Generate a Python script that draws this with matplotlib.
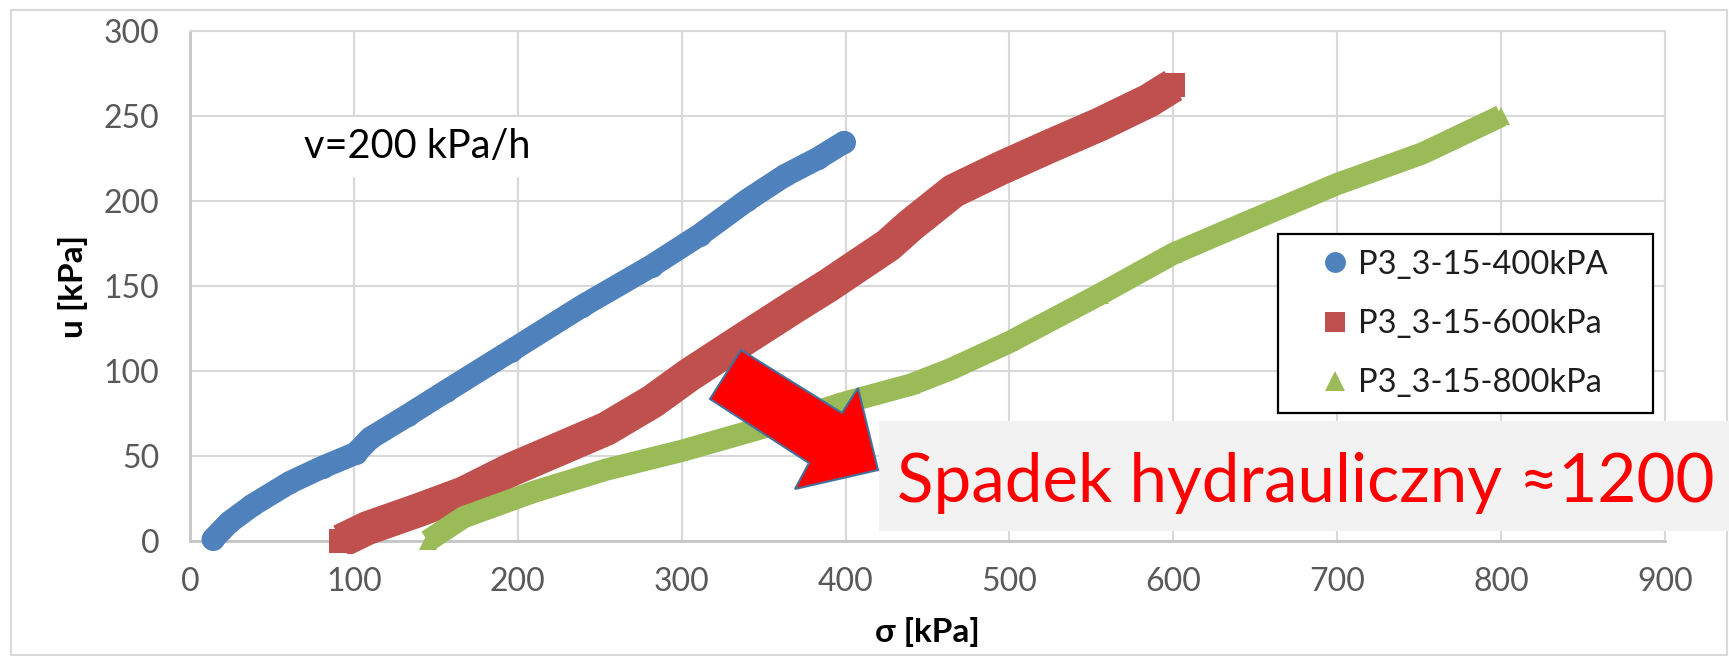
import matplotlib
matplotlib.use("Agg")
import matplotlib.pyplot as plt
from matplotlib.patches import Rectangle, Polygon
from matplotlib.lines import Line2D

# pore pressure u [kPa] against total stress sigma [kPa], three loading tests
sigma_400 = [14, 24, 38, 61, 81, 101, 110, 133, 156, 196, 239, 282, 311, 340, 363, 383, 399]
u_400 = [1, 11, 21, 34.5, 43.5, 51.5, 60.5, 74, 88, 112, 138, 162, 180, 200.5, 215, 225, 234.5]

sigma_600 = [92, 108, 139, 167, 196, 225, 254, 282, 305, 340, 369, 389, 426, 440,
             466, 494, 524, 555, 585, 600]
u_600 = [0, 7.5, 18, 28, 42, 54, 66, 82, 98, 120, 138, 150, 174, 186,
         206, 219, 232, 245, 259, 268]

sigma_800 = [145, 167, 210, 254, 300, 340, 369, 398, 440, 464, 500, 555, 600, 646, 700, 752, 800]
u_800 = [0, 14, 29, 42, 53, 64, 72, 81, 92, 101, 117, 145, 169, 188, 210, 228, 250]

labels = ["P3_3-15-400kPA", "P3_3-15-600kPa", "P3_3-15-800kPa"]
colors = ["#4f81bd", "#c0504d", "#9bbb59"]

W, H = 1729, 656
plt.rcParams["font.family"] = ["Lato", "DejaVu Sans"]


def fx(x):
    return x / W


def fy(y):
    return 1 - y / H


fig = plt.figure(figsize=(W / 100, H / 100), dpi=100)
fig.patch.set_facecolor("white")

# chart area border
fig.patches.append(Rectangle((fx(11), fy(655)), fx(1727) - fx(11), fy(10) - fy(655),
                             transform=fig.transFigure, fill=False,
                             edgecolor="#d9d9d9", linewidth=1.5, zorder=0))

ax = fig.add_axes([fx(190), fy(541), fx(1665) - fx(190), fy(31) - fy(541)])
ax.set_xlim(0, 900)
ax.set_ylim(0, 300)
ax.set_xticks(range(0, 901, 100))
ax.set_yticks(range(0, 301, 50))
ax.grid(True, color="#d9d9d9", linewidth=1.5)
ax.set_axisbelow(True)
ax.tick_params(length=0, labelsize=23, labelcolor="#595959")
ax.tick_params(axis="x", pad=19)
ax.tick_params(axis="y", pad=22)
for side in ["left", "bottom"]:
    ax.spines[side].set_color("#c6c6c6")
    ax.spines[side].set_linewidth(2)
for side in ["top", "right"]:
    ax.spines[side].set_color("#d9d9d9")
    ax.spines[side].set_linewidth(1.5)

# markers spill a little below the zero line
clip = Rectangle((0, -0.025), 1, 1.025, transform=ax.transAxes)

series = [
    (sigma_400, u_400, "o", 16.5, 16.5, "round"),
    (sigma_600, u_600, "s", 24.5, 17.5, "butt"),
    (sigma_800, u_800, "^", 16.0, 13.5, "butt"),
]
for (s, u, m, lw, ms, cap), c in zip(series, colors):
    band, = ax.plot(s, u, color=c, linewidth=lw, solid_capstyle=cap,
                    solid_joinstyle="round", zorder=3)
    pts, = ax.plot(s, u, linestyle="none", marker=m, markersize=ms, color=c,
                   markeredgewidth=0, zorder=3)
    band.set_clip_path(clip)
    pts.set_clip_path(clip)

# legend: plain black box, entries placed inside it
box = Rectangle((fx(1278), fy(413)), fx(1653) - fx(1278), fy(234) - fy(413),
                transform=fig.transFigure, facecolor="white", edgecolor="black",
                linewidth=1.6, clip_on=False, zorder=4)
ax.add_patch(box)
handles = [Line2D([], [], linestyle="none", marker=m, markersize=15, color=c, markeredgewidth=0)
           for m, c in zip(["o", "s", "^"], colors)]
leg = ax.legend(handles, labels, loc="center left",
                bbox_to_anchor=(fx(1322), fy(324)), bbox_transform=fig.transFigure,
                borderaxespad=0, borderpad=0, frameon=False,
                fontsize=23.5, handlelength=0.8, handletextpad=0.3, labelspacing=0.9)
leg.set_zorder(5)
for t in leg.get_texts():
    t.set_color("#1e1e1e")

ax.set_xlabel("σ [kPa]", fontsize=24, fontweight="bold", labelpad=14)
ax.set_ylabel("u [kPa]", fontsize=24, fontweight="bold", labelpad=11)

# test rate note
fig.text(fx(417), fy(147), "v=200 kPa/h", fontsize=28.5, color="black",
         ha="center", va="center",
         bbox=dict(boxstyle="square,pad=0.3", facecolor="white", edgecolor="none"))

# annotation arrow and hydraulic gradient box
arrow_px = [(741, 350), (842, 413), (858, 388), (878, 470), (795, 489), (809, 463), (710, 399)]
fig.patches.append(Polygon([(fx(x), fy(y)) for x, y in arrow_px], closed=True,
                           transform=fig.transFigure, facecolor="#ff0000",
                           edgecolor="#41719c", linewidth=1.5, zorder=5))
fig.patches.append(Rectangle((fx(879), fy(531)), fx(1729) - fx(879), fy(421) - fy(531),
                             transform=fig.transFigure, facecolor="#f2f2f2",
                             edgecolor="none", zorder=4))
fig.text(fx(897), fy(502), "Spadek hydrauliczny ≈1200", fontsize=48.5, color="#ff0000",
         ha="left", va="baseline", zorder=6)

fig.savefig("out.png", dpi=100)
